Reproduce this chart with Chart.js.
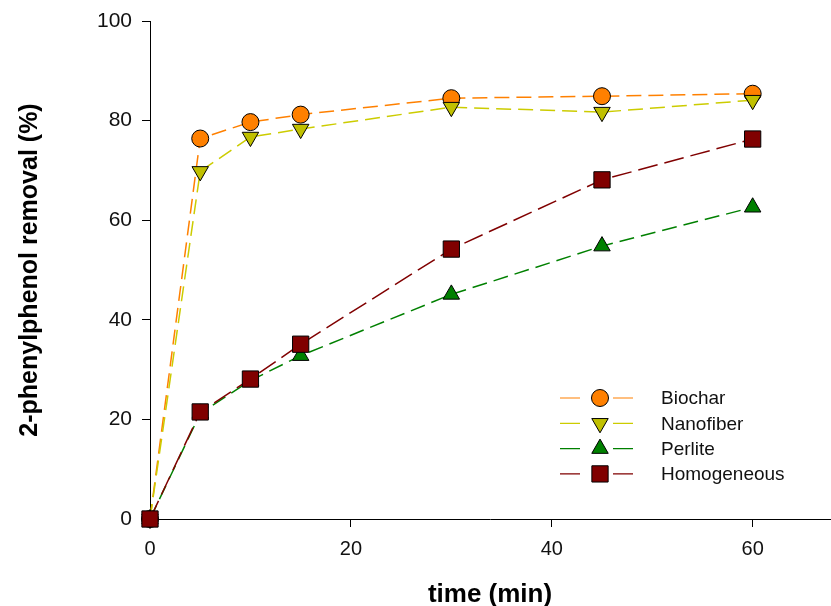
<!DOCTYPE html>
<html>
<head>
<meta charset="utf-8">
<script src="https://cdn.jsdelivr.net/npm/chart.js@4/dist/chart.umd.min.js"></script>
<style>
  html, body { margin: 0; padding: 0; background: #fff; }
  #wrap { width: 831px; height: 606px; }
</style>
</head>
<body>
<div id="wrap"><canvas id="removalChart" width="831" height="606"></canvas></div>
<script>
// --- DADOS ---
const timeMin = [0, 5, 10, 15, 30, 45, 60];
const biochar = [0, 76.4, 79.7, 81.2, 84.5, 84.9, 85.4];
const nanofiber = [0, 69.8, 76.7, 78.3, 82.7, 81.7, 84.1];
const perlite = [0, 21.2, 27.8, 32.8, 45.1, 54.8, 62.6];
const homogeneous = [0, 21.5, 28.1, 35.1, 54.2, 68.1, 76.3];
const xTicks = [0, 20, 40, 60];
const yTicks = [0, 20, 40, 60, 80, 100];

const seriesNames = ['Biochar', 'Nanofiber', 'Perlite', 'Homogeneous'];
const FONT = "Arial, 'Liberation Sans', sans-serif";

const toPoints = (ys) => ys.map((y, i) => ({ x: timeMin[i], y }));

function makeDataset(label, values, color, fill, style, extra) {
    return Object.assign({
        label,
        data: toPoints(values),
        borderColor: color,
        borderWidth: 1.5,
        borderDash: [15, 7],
        pointStyle: style,
        pointBackgroundColor: fill,
        pointBorderColor: '#000',
        pointBorderWidth: 1,
        pointRadius: 8.5,
        pointHoverRadius: 8.5,
        tension: 0,
        clip: false,
        fill: false
    }, extra || {});
}

// legenda desenhada à mão (linha - marcador - linha)
const insideLegend = {
    id: 'insideLegend',
    afterDraw(chart, args, opts) {
        const ctx = chart.ctx;
        chart.data.datasets.forEach((ds, i) => {
            const y = opts.y + i * opts.rowGap;
            ctx.save();
            ctx.strokeStyle = ds.borderColor;
            ctx.lineWidth = 1.2;
            ctx.beginPath();
            ctx.moveTo(opts.x, y); ctx.lineTo(opts.x + 20, y);
            ctx.moveTo(opts.x + 53, y); ctx.lineTo(opts.x + 73, y);
            ctx.stroke();
            ctx.fillStyle = ds.pointBackgroundColor;
            ctx.strokeStyle = '#000';
            ctx.lineWidth = 1;
            Chart.helpers.drawPoint(ctx, {
                pointStyle: ds.pointStyle,
                radius: ds.pointRadius,
                rotation: ds.pointRotation || 0,
                borderWidth: 1
            }, opts.x + 40, y);
            ctx.fillStyle = '#111';
            ctx.font = `19px ${FONT}`;
            ctx.textBaseline = 'middle';
            ctx.textAlign = 'left';
            ctx.fillText(ds.label, opts.x + 101, y + 1);
            ctx.restore();
        });
    }
};

new Chart(document.getElementById('removalChart'), {
    type: 'line',
    data: {
        datasets: [
            makeDataset(seriesNames[0], biochar, '#FF8000', '#FF8000', 'circle', { order: 4 }),
            makeDataset(seriesNames[1], nanofiber, '#CCCC00', '#C0C000', 'triangle', { order: 3, pointRotation: 180, pointRadius: 9.5, pointHoverRadius: 9.5 }),
            makeDataset(seriesNames[2], perlite, '#008000', '#008000', 'triangle', { order: 2, pointRadius: 9.5, pointHoverRadius: 9.5 }),
            makeDataset(seriesNames[3], homogeneous, '#800000', '#800000', 'rect', { order: 1, borderDash: [20, 7], pointRadius: 11.5, pointHoverRadius: 11.5 })
        ]
    },
    options: {
        responsive: false,
        animation: false,
        layout: { autoPadding: false, padding: { top: 21, right: 1, left: 0, bottom: 0 } },
        plugins: {
            legend: { display: false },
            tooltip: { enabled: false },
            insideLegend: { x: 560, y: 398, rowGap: 25.3 }
        },
        scales: {
            x: {
                type: 'linear',
                min: 0,
                max: 67.7,
                afterBuildTicks: (s) => { s.ticks = xTicks.map(v => ({ value: v })); },
                afterFit: (s) => { s.height = 87; s.paddingRight = 0; s.paddingLeft = 0; },
                grid: { drawOnChartArea: false, drawTicks: true, tickLength: 8, color: '#000' },
                border: { display: true, color: '#000', width: 1 },
                ticks: { color: '#111', font: { family: FONT, size: 20 }, padding: 10, maxRotation: 0 },
                title: {
                    display: true,
                    text: 'time (min)',
                    color: '#000',
                    font: { family: FONT, size: 26, weight: 'bold', lineHeight: 0.85 },
                    padding: { top: 0, bottom: 0 }
                }
            },
            y: {
                type: 'linear',
                min: 0,
                max: 100,
                afterBuildTicks: (s) => { s.ticks = yTicks.map(v => ({ value: v })); },
                afterFit: (s) => { s.width = 150; s.paddingTop = 0; s.paddingBottom = 0; },
                grid: { drawOnChartArea: false, drawTicks: true, tickLength: 8, color: '#000' },
                border: { display: true, color: '#000', width: 1 },
                ticks: { color: '#111', font: { family: FONT, size: 21 }, padding: 10 },
                title: {
                    display: true,
                    text: '2-phenylphenol removal (%)',
                    color: '#000',
                    font: { family: FONT, size: 25, weight: 'bold', lineHeight: 1.2 },
                    padding: { top: 15, bottom: 0 }
                }
            }
        }
    },
    plugins: [insideLegend]
});
</script>
</body>
</html>
